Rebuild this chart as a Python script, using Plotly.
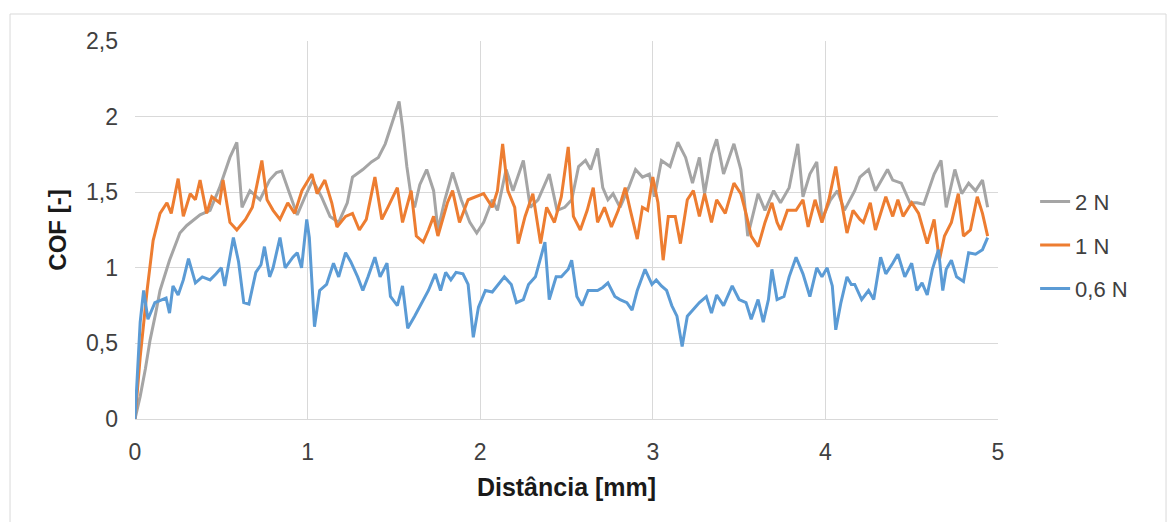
import plotly.graph_objects as go

# Coefficient of friction vs. sliding distance for three normal loads
dist_2n = [0, 0.03, 0.06, 0.087, 0.12, 0.145, 0.2, 0.26, 0.30, 0.377, 0.435, 0.49, 0.55, 0.59, 0.62,
           0.666, 0.724, 0.78, 0.82, 0.85, 0.89, 0.94, 0.985, 1.03, 1.08, 1.13, 1.18, 1.23, 1.26, 1.32,
           1.37, 1.41, 1.45, 1.49, 1.53, 1.55, 1.575, 1.60, 1.62, 1.65, 1.69, 1.73, 1.755, 1.795, 1.84,
           1.89, 1.94, 1.98, 2.02, 2.07, 2.10, 2.15, 2.19, 2.25, 2.29, 2.335, 2.40, 2.445, 2.49, 2.53,
           2.57, 2.61, 2.64, 2.68, 2.71, 2.74, 2.77, 2.81, 2.86, 2.90, 2.94, 2.98, 3.01, 3.05, 3.10,
           3.145, 3.19, 3.23, 3.27, 3.30, 3.34, 3.37, 3.41, 3.47, 3.51, 3.53, 3.55, 3.61, 3.65, 3.70,
           3.74, 3.79, 3.84, 3.87, 3.91, 3.95, 3.98, 4.03, 4.07, 4.11, 4.17, 4.20, 4.25, 4.29, 4.36,
           4.39, 4.44, 4.49, 4.53, 4.57, 4.63, 4.67, 4.70, 4.75, 4.79, 4.83, 4.87, 4.91, 4.94]
cof_2n = [0, 0.15, 0.33, 0.52, 0.70, 0.85, 1.05, 1.23, 1.28, 1.35, 1.38, 1.53, 1.73, 1.83, 1.40,
          1.51, 1.45, 1.58, 1.63, 1.64, 1.51, 1.35, 1.47, 1.58, 1.47, 1.34, 1.30, 1.43, 1.60, 1.65,
          1.70, 1.73, 1.82, 1.96, 2.10, 1.93, 1.67, 1.47, 1.40, 1.55, 1.65, 1.51, 1.25, 1.45, 1.63,
          1.45, 1.30, 1.23, 1.30, 1.45, 1.38, 1.65, 1.51, 1.71, 1.40, 1.45, 1.62, 1.38, 1.40, 1.45,
          1.67, 1.71, 1.65, 1.79, 1.53, 1.45, 1.49, 1.40, 1.53, 1.65, 1.60, 1.62, 1.47, 1.71, 1.67,
          1.83, 1.73, 1.56, 1.73, 1.49, 1.75, 1.85, 1.62, 1.82, 1.65, 1.45, 1.21, 1.49, 1.38, 1.51,
          1.43, 1.53, 1.82, 1.47, 1.62, 1.70, 1.32, 1.45, 1.51, 1.38, 1.51, 1.60, 1.65, 1.51, 1.65,
          1.58, 1.56, 1.43, 1.43, 1.42, 1.62, 1.71, 1.40, 1.65, 1.49, 1.56, 1.51, 1.58, 1.40]

dist_1n = [0, 0.03, 0.07, 0.105, 0.145, 0.185, 0.21, 0.25, 0.28, 0.32, 0.35, 0.377, 0.415, 0.445,
           0.49, 0.51, 0.55, 0.59, 0.64, 0.68, 0.735, 0.765, 0.80, 0.84, 0.885, 0.925, 0.967, 1.025,
           1.055, 1.10, 1.14, 1.17, 1.22, 1.26, 1.30, 1.34, 1.39, 1.43, 1.465, 1.52, 1.55, 1.60, 1.63,
           1.67, 1.70, 1.73, 1.755, 1.81, 1.84, 1.88, 1.93, 1.97, 2.02, 2.07, 2.10, 2.13, 2.16, 2.20,
           2.22, 2.26, 2.305, 2.35, 2.385, 2.43, 2.47, 2.51, 2.54, 2.58, 2.62, 2.655, 2.68, 2.72, 2.76,
           2.80, 2.84, 2.87, 2.91, 2.94, 2.97, 3.00, 3.03, 3.06, 3.09, 3.13, 3.16, 3.20, 3.235, 3.27,
           3.30, 3.34, 3.37, 3.42, 3.47, 3.51, 3.54, 3.57, 3.61, 3.65, 3.69, 3.72, 3.74, 3.78, 3.83,
           3.87, 3.90, 3.94, 3.98, 4.02, 4.06, 4.085, 4.125, 4.16, 4.20, 4.22, 4.26, 4.29, 4.35, 4.39,
           4.42, 4.45, 4.50, 4.54, 4.59, 4.63, 4.66, 4.69, 4.73, 4.77, 4.80, 4.84, 4.88, 4.91, 4.94]
cof_1n = [0, 0.41, 0.85, 1.18, 1.36, 1.43, 1.36, 1.59, 1.34, 1.49, 1.45, 1.58, 1.36, 1.47,
          1.43, 1.58, 1.30, 1.25, 1.32, 1.40, 1.71, 1.45, 1.38, 1.32, 1.43, 1.36, 1.51, 1.62,
          1.49, 1.58, 1.43, 1.27, 1.34, 1.36, 1.25, 1.32, 1.60, 1.32, 1.40, 1.53, 1.30, 1.51, 1.21,
          1.17, 1.25, 1.34, 1.21, 1.43, 1.51, 1.30, 1.45, 1.47, 1.49, 1.40, 1.51, 1.82, 1.51, 1.40,
          1.16, 1.34, 1.49, 1.16, 1.40, 1.30, 1.47, 1.80, 1.34, 1.25, 1.38, 1.53, 1.30, 1.40, 1.27,
          1.38, 1.53, 1.38, 1.19, 1.40, 1.38, 1.60, 1.43, 1.05, 1.34, 1.34, 1.16, 1.45, 1.51, 1.34,
          1.49, 1.30, 1.45, 1.36, 1.56, 1.49, 1.36, 1.21, 1.14, 1.30, 1.43, 1.30, 1.25, 1.38, 1.38,
          1.45, 1.27, 1.45, 1.30, 1.45, 1.67, 1.49, 1.23, 1.38, 1.32, 1.30, 1.43, 1.25, 1.47, 1.34,
          1.45, 1.34, 1.43, 1.36, 1.16, 1.32, 1.05, 1.21, 1.30, 1.49, 1.21, 1.25, 1.47, 1.36, 1.21]

dist_06n = [0, 0.015, 0.03, 0.05, 0.075, 0.115, 0.155, 0.18, 0.20, 0.22, 0.25, 0.28, 0.31, 0.35,
            0.39, 0.435, 0.47, 0.50, 0.52, 0.57, 0.60, 0.63, 0.66, 0.70, 0.73, 0.75, 0.78, 0.80,
            0.84, 0.87, 0.915, 0.94, 0.965, 0.995, 1.01, 1.04, 1.07, 1.11, 1.15, 1.18, 1.22, 1.25,
            1.29, 1.32, 1.35, 1.39, 1.42, 1.46, 1.48, 1.52, 1.55, 1.58, 1.62, 1.67, 1.70, 1.74, 1.77,
            1.80, 1.83, 1.86, 1.90, 1.93, 1.96, 1.99, 2.03, 2.07, 2.10, 2.14, 2.18, 2.21, 2.25, 2.28,
            2.32, 2.35, 2.375, 2.40, 2.44, 2.47, 2.51, 2.53, 2.56, 2.59, 2.625, 2.68, 2.71, 2.74,
            2.78, 2.81, 2.85, 2.88, 2.91, 2.955, 2.995, 3.02, 3.05, 3.08, 3.11, 3.14, 3.17, 3.20,
            3.23, 3.27, 3.31, 3.34, 3.37, 3.41, 3.46, 3.50, 3.54, 3.57, 3.61, 3.64, 3.67, 3.69, 3.72,
            3.76, 3.79, 3.83, 3.87, 3.91, 3.95, 3.98, 4.01, 4.04, 4.06, 4.09, 4.125, 4.15, 4.17,
            4.21, 4.25, 4.28, 4.32, 4.35, 4.39, 4.42, 4.46, 4.50, 4.53, 4.56, 4.59, 4.62, 4.655,
            4.68, 4.70, 4.73, 4.76, 4.80, 4.83, 4.87, 4.91, 4.94]
cof_06n = [0, 0.30, 0.64, 0.85, 0.66, 0.77, 0.79, 0.80, 0.70, 0.88, 0.82, 0.92, 1.06, 0.90,
           0.94, 0.92, 0.96, 1.00, 0.88, 1.20, 1.04, 0.77, 0.76, 0.97, 1.02, 1.14, 0.94, 1.00,
           1.20, 1.00, 1.07, 1.10, 1.00, 1.32, 1.20, 0.61, 0.85, 0.89, 1.03, 0.94, 1.10, 1.04,
           0.94, 0.85, 0.94, 1.07, 0.94, 1.03, 0.81, 0.75, 0.88, 0.60, 0.68, 0.78, 0.85, 0.96, 0.85,
           0.97, 0.92, 0.97, 0.96, 0.89, 0.54, 0.74, 0.85, 0.84, 0.88, 0.94, 0.89, 0.77, 0.79, 0.89,
           0.94, 1.07, 1.17, 0.79, 0.94, 0.94, 0.99, 1.05, 0.81, 0.75, 0.85, 0.85, 0.87, 0.90,
           0.81, 0.79, 0.77, 0.72, 0.85, 0.99, 0.89, 0.92, 0.88, 0.85, 0.75, 0.68, 0.48, 0.68,
           0.72, 0.77, 0.81, 0.70, 0.82, 0.75, 0.88, 0.79, 0.77, 0.66, 0.79, 0.64, 0.79, 0.99, 0.79,
           0.81, 0.94, 1.07, 0.96, 0.81, 1.00, 0.94, 1.00, 0.88, 0.59, 0.77, 0.94, 0.89, 0.89,
           0.79, 0.85, 0.79, 1.07, 0.96, 1.03, 1.09, 0.94, 1.03, 0.85, 0.90, 0.82, 0.99, 1.12,
           0.85, 0.99, 1.05, 0.94, 0.91, 1.10, 1.09, 1.12, 1.20]

series = [
    ("2 N", dist_2n, cof_2n, "#A5A5A5"),
    ("1 N", dist_1n, cof_1n, "#ED7D31"),
    ("0,6 N", dist_06n, cof_06n, "#5B9BD5"),
]

FONT = "Liberation Sans, Arial, sans-serif"
TICK_COLOR = "#404040"
TITLE_COLOR = "#1a1a1a"

fig = go.Figure()
for i, (name, xs, ys, color) in enumerate(series):
    fig.add_trace(go.Scatter(
        x=xs, y=ys, name=name, mode="lines",
        line=dict(color=color, width=3),
        legendgroup=f"g{i}",
    ))

grid = "#D9D9D9"
fig.update_layout(
    width=1173, height=522,
    margin=dict(l=135, r=175, t=41, b=103),
    paper_bgcolor="white", plot_bgcolor="white",
    separators=", ",
    font=dict(family=FONT, size=22, color=TICK_COLOR),
    showlegend=True,
    legend=dict(
        x=1.043, y=0.46, xanchor="left", yanchor="middle",
        font=dict(family=FONT, size=22, color=TICK_COLOR),
        tracegroupgap=12, bgcolor="rgba(0,0,0,0)",
    ),
    xaxis=dict(
        range=[0, 5], dtick=1, tick0=0,
        showgrid=True, gridcolor=grid, gridwidth=1,
        showline=True, linecolor=grid, linewidth=1,
        zeroline=False, ticks="", ticklabelstandoff=12,
        tickfont=dict(family=FONT, size=23, color=TICK_COLOR),
        title=dict(text="<b>Distância [mm]</b>", standoff=14,
                   font=dict(family=FONT, size=25, color=TITLE_COLOR)),
    ),
    yaxis=dict(
        range=[0, 2.5], dtick=0.5, tick0=0,
        showgrid=True, gridcolor=grid, gridwidth=1,
        showline=False, zeroline=False, ticks="", ticklabelstandoff=16,
        tickfont=dict(family=FONT, size=23, color=TICK_COLOR),
        title=dict(text="<b>COF [-]</b>", standoff=12,
                   font=dict(family=FONT, size=24, color=TITLE_COLOR)),
    ),
    shapes=[dict(
        type="rect", xref="paper", yref="paper",
        x0=-0.1448, x1=1.1947, y0=-0.3, y1=1.0714,
        line=dict(color="#D9D9D9", width=1), fillcolor="rgba(0,0,0,0)", layer="below",
    )],
)

fig.write_html("out.html")
